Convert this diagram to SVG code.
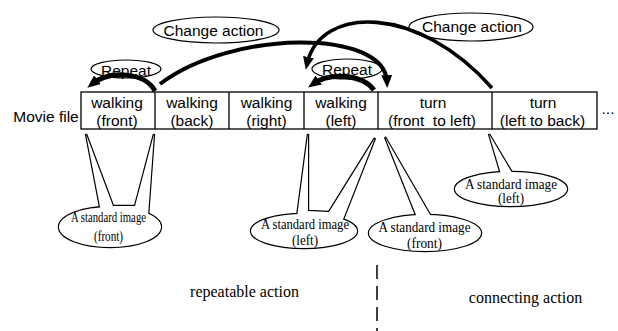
<svg xmlns="http://www.w3.org/2000/svg" width="618" height="331" viewBox="0 0 618 331">
<style>
.sans{font-family:"Liberation Sans",Arial,sans-serif;font-size:15.5px;fill:#000;text-anchor:middle}
.serif{font-family:"Liberation Serif","Times New Roman",serif;font-size:14.5px;fill:#000;text-anchor:middle}
.big{font-family:"Liberation Serif","Times New Roman",serif;font-size:16px;fill:#000;text-anchor:middle}
.lbl{fill:#fff;stroke:#000;stroke-width:1.2}
.box{fill:#fff;stroke:#000;stroke-width:1.3}
.arc{fill:none;stroke:#000;stroke-linecap:butt}
.cs{fill:none;stroke:#000;stroke-width:2.4;stroke-linejoin:miter}
.cf{fill:#fff;stroke:none}
</style>
<defs>
<marker id="ah" markerUnits="userSpaceOnUse" markerWidth="13" markerHeight="11" refX="7" refY="5.5" orient="auto">
<path d="M0,0 L13,5.5 L0,11 z" fill="#000"/>
</marker>
</defs>
<rect width="618" height="331" fill="#fff"/>

<g id="movie-file">
<text class="sans" x="46" y="121.5">Movie file</text>
<rect class="box" x="81" y="92" width="516" height="37"/>
<line x1="155" y1="92" x2="155" y2="129" stroke="#000" stroke-width="1.3"/>
<line x1="229" y1="92" x2="229" y2="129" stroke="#000" stroke-width="1.3"/>
<line x1="304" y1="92" x2="304" y2="129" stroke="#000" stroke-width="1.3"/>
<line x1="378" y1="92" x2="378" y2="129" stroke="#000" stroke-width="1.3"/>
<line x1="492" y1="92" x2="492" y2="129" stroke="#000" stroke-width="1.3"/>
<text class="sans" x="608" y="114">...</text>
</g>
<g id="cell-walking-front"><text class="sans" x="117" y="107.5">walking</text><text class="sans" x="117" y="125.5">(front)</text></g>
<g id="cell-walking-back"><text class="sans" x="192" y="107.5">walking</text><text class="sans" x="192" y="125.5">(back)</text></g>
<g id="cell-walking-right"><text class="sans" x="266.5" y="107.5">walking</text><text class="sans" x="266.5" y="125.5">(right)</text></g>
<g id="cell-walking-left"><text class="sans" x="341" y="107.5">walking</text><text class="sans" x="341" y="125.5">(left)</text></g>
<g id="cell-turn-front-left"><text class="sans" x="433" y="107.5">turn</text><text class="sans" x="432" y="125.5" xml:space="preserve">(front  to left)</text></g>
<g id="cell-turn-left-back"><text class="sans" x="543" y="107.5">turn</text><text class="sans" x="542.5" y="125.5">(left to back)</text></g>

<g id="label-change-1"><ellipse class="lbl" cx="216" cy="30" rx="63" ry="13"/><text class="sans" x="213.5" y="36">Change action</text></g>
<g id="label-change-2"><ellipse class="lbl" cx="471" cy="27" rx="62" ry="14"/><text class="sans" x="472" y="32">Change action</text></g>
<g id="label-repeat-1"><ellipse class="lbl" cx="126" cy="69" rx="35" ry="9"/><text class="sans" x="126" y="76">Repeat</text></g>
<g id="label-repeat-2"><ellipse class="lbl" cx="347" cy="69" rx="35" ry="10"/><text class="sans" x="347" y="75">Repeat</text></g>

<g id="connectors">
<path class="arc" stroke-width="5" d="M155,91 C145,72 110,70 92,84" marker-end="url(#ah)"/>
<path class="arc" stroke-width="5" d="M374,90 C362,74 330,72 313,84" marker-end="url(#ah)"/>
<path class="arc" stroke-width="4" d="M160,84 C230,30 385,28 387,82" marker-end="url(#ah)"/>
<path class="arc" stroke-width="3.6" d="M492,88 C418,4 320,5 307,64" marker-end="url(#ah)"/>
</g>

<g id="callout-front-1">
<ellipse class="cs" cx="110" cy="227" rx="51" ry="20"/>
<polygon class="cs" points="101,212 86,134 113,206 135,206 154,134 148,216 125,222"/>
<ellipse class="cf" cx="110" cy="227" rx="51" ry="20"/>
<polygon class="cf" points="101,212 86,134 113,206 135,206 154,134 148,216 125,222"/>
<text class="serif" x="108.5" y="222" textLength="75" lengthAdjust="spacingAndGlyphs">A standard image</text>
<text class="serif" x="108.5" y="241" textLength="29" lengthAdjust="spacingAndGlyphs">(front)</text>
</g>
<g id="callout-left-1">
<ellipse class="cs" cx="304" cy="231" rx="53" ry="17"/>
<polygon class="cs" points="297,217 308,134 308,211 329,212 375,138 342,222 320,226"/>
<ellipse class="cf" cx="304" cy="231" rx="53" ry="17"/>
<polygon class="cf" points="297,217 308,134 308,211 329,212 375,138 342,222 320,226"/>
<text class="serif" x="305" y="229" textLength="88" lengthAdjust="spacingAndGlyphs">A standard image</text>
<text class="serif" x="305" y="245" textLength="26" lengthAdjust="spacingAndGlyphs">(left)</text>
</g>
<g id="callout-front-2">
<ellipse class="cs" cx="425" cy="233" rx="56" ry="18"/>
<polygon class="cs" points="385,137 433,220 418,220"/>
<ellipse class="cf" cx="425" cy="233" rx="56" ry="18"/>
<polygon class="cf" points="385,137 433,220 418,220"/>
<text class="serif" x="424.5" y="232" textLength="92" lengthAdjust="spacingAndGlyphs">A standard image</text>
<text class="serif" x="424.5" y="247.5" textLength="35" lengthAdjust="spacingAndGlyphs">(front)</text>
</g>
<g id="callout-left-2">
<ellipse class="cs" cx="511" cy="189" rx="56" ry="17"/>
<polygon class="cs" points="489,134 517,181 503,181"/>
<ellipse class="cf" cx="511" cy="189" rx="56" ry="17"/>
<polygon class="cf" points="489,134 517,181 503,181"/>
<text class="serif" x="511" y="188.5" textLength="92" lengthAdjust="spacingAndGlyphs">A standard image</text>
<text class="serif" x="511" y="203" textLength="26" lengthAdjust="spacingAndGlyphs">(left)</text>
</g>

<g id="sections">
<line x1="377" y1="265" x2="377" y2="331" stroke="#000" stroke-width="1.5" stroke-dasharray="14 7"/>
<text class="big" x="244.5" y="297">repeatable action</text>
<text class="big" x="525.5" y="303">connecting action</text>
</g>
</svg>
